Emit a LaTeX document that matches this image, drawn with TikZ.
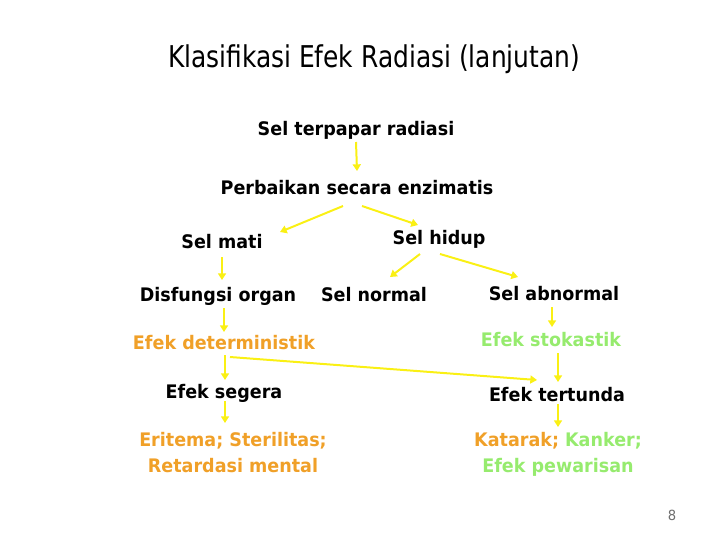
\documentclass[tikz,border=0pt]{standalone}
\usepackage{fontspec}
\setmainfont[FakeStretch=0.94]{DejaVu Sans}
\newfontfamily\titlefont[FakeStretch=0.83]{DejaVu Sans}
\usepackage{xcolor}
\usetikzlibrary{positioning,calc,arrows.meta}

\definecolor{arryellow}{RGB}{250,240,20}
\definecolor{orangetxt}{RGB}{240,160,40}
\definecolor{greentxt}{RGB}{150,235,110}
\definecolor{pagegray}{RGB}{110,110,110}

\tikzset{
  lbl/.style={font=\bfseries\fontsize{14}{19.5}\selectfont, anchor=base, inner sep=0pt},
  arr/.style={draw=arryellow, line width=1.5pt, -{Triangle[length=5pt,width=6pt]}},
}

\begin{document}
\begin{tikzpicture}[x=0.75pt,y=-0.75pt]
\useasboundingbox (0,0) rectangle (720,540);

% Title
\node[anchor=base, inner sep=0pt, font=\titlefont\fontsize{22.5}{27}\selectfont] (title) at (374,67) {Klasifikasi Efek Radiasi (lanjutan)};

% Tree of effects
\node[lbl] (terpapar) at (356,135) {Sel terpapar radiasi};
\node[lbl] (perbaikan) at (357,194) {Perbaikan secara enzimatis};
\node[lbl] (mati) at (222,248) {Sel mati};
\node[lbl] (hidup) at (439,244) {Sel hidup};
\node[lbl] (disfungsi) at (218,301) {Disfungsi organ};
\node[lbl] (normal) at (374,301) {Sel normal};
\node[lbl] (abnormal) at (554,300) {Sel abnormal};
\node[lbl, orangetxt] (determ) at (224,349) {Efek deterministik};
\node[lbl, greentxt] (stokastik) at (551,346) {Efek stokastik};
\node[lbl] (segera) at (224,398) {Efek segera};
\node[lbl] (tertunda) at (557,401) {Efek tertunda};
% base of a two-line node is its last line
\node[lbl, orangetxt, align=center] (eritema) at (233,472) {Eritema; Sterilitas;\\Retardasi mental};
\node[lbl, greentxt, align=center] (katarak) at (558,472) {\textcolor{orangetxt}{Katarak;} Kanker;\\Efek pewarisan};

% Connectors
\draw[arr] ($(terpapar.base)+(0,7)$) -- ($(perbaikan.base)+(0,-23)$);
\draw[arr] ($(perbaikan.base)+(-14,12)$) -- ($(mati.base)+(58,-16)$);
\draw[arr] ($(perbaikan.base)+(5,12)$) -- ($(hidup.base)+(-21,-19)$);
\draw[arr] ($(mati.base)+(0,9)$) -- ($(disfungsi.base)+(4,-21)$);
\draw[arr] ($(hidup.base)+(-19,10)$) -- ($(normal.base)+(16,-24)$);
\draw[arr] ($(hidup.base)+(1,10)$) -- ($(abnormal.base)+(-36,-23)$);
\draw[arr] ($(disfungsi.base)+(6,7)$) -- ($(determ.base)+(0,-17)$);
\draw[arr] ($(abnormal.base)+(-2,7)$) -- ($(stokastik.base)+(1,-19)$);
\draw[arr] ($(determ.base)+(1,6)$) -- ($(segera.base)+(1,-18)$);
\draw[arr] ($(determ.base)+(6,8)$) -- ($(tertunda.base)+(-20,-21)$);
\draw[arr] ($(stokastik.base)+(7,7)$) -- ($(tertunda.base)+(1,-19)$);
\draw[arr] ($(segera.base)+(1,3)$) -- ($(eritema.base)+(-8,-49)$);
\draw[arr] ($(tertunda.base)+(1,3)$) -- ($(katarak.base)+(0,-45)$);

% Page number
\node[pagegray, font=\fontsize{10.5}{12}\selectfont, inner sep=0pt] (page) at (672,515) {8};
\end{tikzpicture}
\end{document}
